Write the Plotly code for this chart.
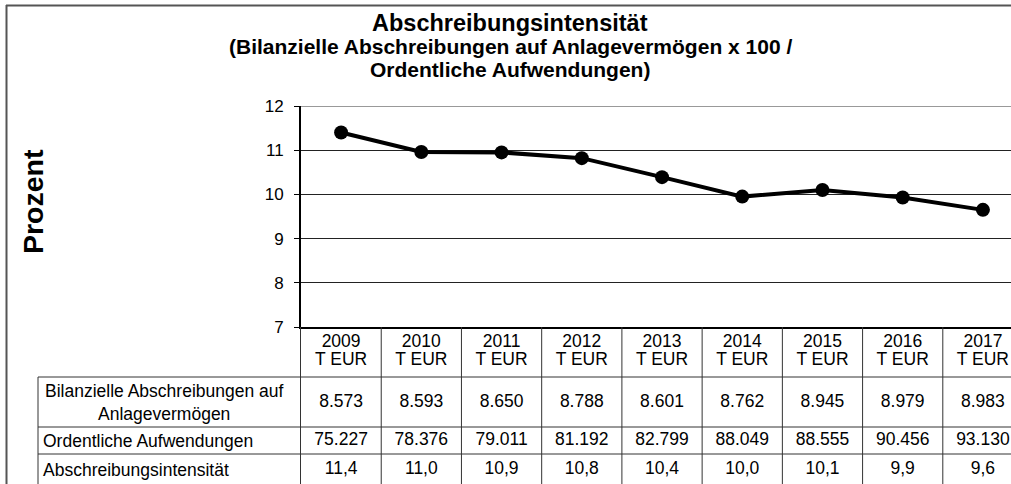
import plotly.graph_objects as go

# data
years = ["2009", "2010", "2011", "2012", "2013", "2014", "2015", "2016", "2017"]
einheit = "T EUR"
intensitaet_kurve = [11.40, 10.96, 10.95, 10.82, 10.39, 9.95, 10.10, 9.93, 9.65]
abschreibungen = [8573, 8593, 8650, 8788, 8601, 8762, 8945, 8979, 8983]
aufwendungen = [75227, 78376, 79011, 81192, 82799, 88049, 88555, 90456, 93130]
intensitaet_tabelle = [11.4, 11.0, 10.9, 10.8, 10.4, 10.0, 10.1, 9.9, 9.6]
row_labels = ["Bilanzielle Abschreibungen auf<br>Anlagevermögen",
              "Ordentliche Aufwendungen",
              "Abschreibungsintensität"]
title_lines = ["Abschreibungsintensität",
               "(Bilanzielle Abschreibungen auf Anlagevermögen x 100 /",
               "Ordentliche Aufwendungen)"]

W, H = 1011, 484
ML = 301
FONT = "Liberation Sans, Arial, sans-serif"
TFS = 17.5


def px(xpix):
    # pixel -> paper x (paper is the plot area between the margins)
    return (xpix - ML) / (W - ML)


def de_int(v):
    return f"{v:,}".replace(",", ".")


def de_dec(v):
    return f"{v:.1f}".replace(".", ",")


# table rows in y2 units (pixels below the x axis)
row_edges = [0, 50, 100, 127, 157]
row_mid = [(a + b) / 2 for a, b in zip(row_edges[:-1], row_edges[1:])]

fig = go.Figure()

fig.add_trace(go.Scatter(
    x=years, y=intensitaet_kurve, mode="lines+markers",
    line=dict(color="black", width=4),
    marker=dict(color="black", size=14),
    cliponaxis=False, showlegend=False, xaxis="x", yaxis="y"))

table_rows = [
    (16, list(years)),
    (34, [einheit] * len(years)),
    (row_mid[1] + 1, [de_int(v) for v in abschreibungen]),
    (row_mid[2], [de_int(v) for v in aufwendungen]),
    (row_mid[3] + 1, [de_dec(v) for v in intensitaet_tabelle]),
]
for ypos, txt in table_rows:
    fig.add_trace(go.Scatter(
        x=years, y=[ypos] * len(years), mode="text", text=txt,
        textposition="middle center",
        textfont=dict(family=FONT, size=TFS, color="black"),
        cliponaxis=False, showlegend=False, hoverinfo="skip",
        xaxis="x", yaxis="y2"))

shapes = []
line_col = "#333"
# column separators
for i in range(len(years) - 1):
    shapes.append(dict(type="line", xref="x", yref="y2", x0=i + 0.5, x1=i + 0.5,
                       y0=0, y1=row_edges[-1], line=dict(color=line_col, width=1)))
# row separators
lab_left = px(38)
for e in row_edges[1:4]:
    shapes.append(dict(type="line", xref="paper", yref="y2", x0=lab_left, x1=1,
                       y0=e, y1=e, line=dict(color=line_col, width=1)))
shapes.append(dict(type="line", xref="paper", yref="y2", x0=lab_left, x1=lab_left,
                   y0=row_edges[1], y1=row_edges[-1], line=dict(color=line_col, width=1)))
# grey top border of plot area
shapes.append(dict(type="line", xref="x domain", yref="y", x0=0, x1=1, y0=12, y1=12,
                   line=dict(color="#999", width=2)))
# outer chart frame
shapes.append(dict(type="line", xref="paper", yref="paper", x0=px(6), x1=1,
                   y0=1 - 5.5 / H, y1=1 - 5.5 / H, line=dict(color="#555", width=2)))
shapes.append(dict(type="line", xref="paper", yref="paper", x0=px(6.5), x1=px(6.5),
                   y0=0, y1=1 - 5 / H, line=dict(color="#555", width=2)))

annotations = []
title_sizes = [23.5, 21, 21]
title_y = [23, 46, 69]
for t, s, yy in zip(title_lines, title_sizes, title_y):
    annotations.append(dict(text=f"<b>{t}</b>", xref="paper", yref="paper",
                            x=px(510), y=1 - yy / H, xanchor="center", yanchor="middle",
                            showarrow=False, font=dict(family=FONT, size=s, color="black")))
annotations.append(dict(text="<b>Prozent</b>", xref="paper", yref="paper",
                        x=px(33), y=1 - 202 / H, textangle=-90, showarrow=False,
                        xanchor="center", yanchor="middle",
                        font=dict(family=FONT, size=28.5, color="black")))
annotations.append(dict(text=row_labels[0], xref="paper", yref="y2", x=px(164),
                        y=row_mid[1], xanchor="center", yanchor="middle",
                        showarrow=False, align="center",
                        font=dict(family=FONT, size=TFS, color="black")))
for k in (1, 2):
    annotations.append(dict(text=row_labels[k], xref="paper", yref="y2", x=px(41),
                            y=row_mid[k + 1] + (1 if k == 2 else 0),
                            xanchor="left", yanchor="middle",
                            showarrow=False, font=dict(family=FONT, size=TFS, color="black")))

plot_top, plot_bot = 106, 327
fig.update_layout(
    width=W, height=H,
    margin=dict(l=ML, r=0, t=0, b=0, autoexpand=False),
    paper_bgcolor="white", plot_bgcolor="white",
    font=dict(family=FONT, color="black"),
    xaxis=dict(type="category", categoryorder="array", categoryarray=years,
               range=[-0.5, 8.35], showline=True, linecolor="black", linewidth=2,
               showticklabels=False, ticks="", showgrid=False, zeroline=False,
               anchor="y", automargin=False),
    yaxis=dict(domain=[1 - plot_bot / H, 1 - plot_top / H], range=[7, 12], dtick=1,
               showline=True, linecolor="black", linewidth=2,
               ticks="outside", ticklen=5, tickcolor="black", tickwidth=1,
               ticklabelstandoff=7, automargin=False,
               tickfont=dict(family=FONT, size=17, color="black"),
               showgrid=True, gridcolor="#222", gridwidth=1, zeroline=False),
    yaxis2=dict(domain=[0, 1 - plot_bot / H], range=[row_edges[-1], 0], anchor="x",
                showline=True, linecolor=line_col, linewidth=1, automargin=False,
                showticklabels=False, ticks="", showgrid=False, zeroline=False),
    shapes=shapes,
    annotations=annotations,
)

fig.write_html(
    "out.html",
    config={"displayModeBar": False},
    post_script="document.documentElement.style.margin='0';"
                "document.body.style.margin='0';document.body.style.overflow='hidden';",
)
